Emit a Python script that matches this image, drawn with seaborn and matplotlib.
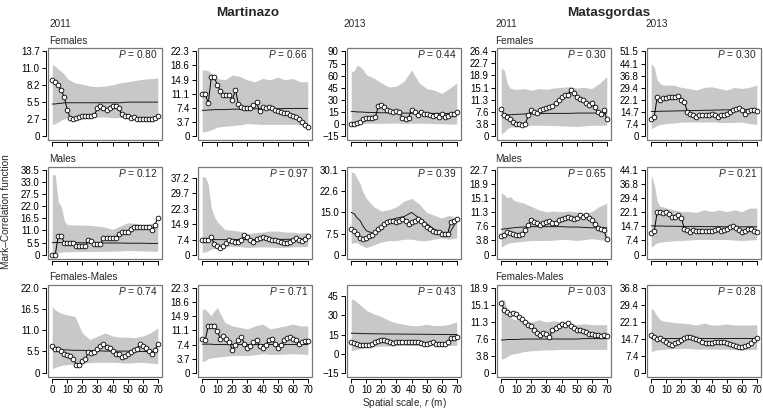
import matplotlib
matplotlib.use("Agg")
import matplotlib.pyplot as plt
from matplotlib.patches import Rectangle
import seaborn as sns

sns.set_style("ticks")
plt.rcParams["font.family"] = ["Liberation Sans", "DejaVu Sans"]
plt.rcParams["mathtext.fontset"] = "custom"
plt.rcParams["mathtext.rm"] = "Liberation Sans"
plt.rcParams["mathtext.it"] = "Liberation Sans:italic"

# distance grids (m)
R_OBS = list(range(0, 71, 2))
R_ENV = [0, 2, 4, 6, 8, 10, 15, 20, 25, 30, 35, 40, 45, 50, 55, 60, 65, 70]

# ---- Martinazo 2011 ----
obs_mar11_f = [9.0, 8.7, 8.2, 7.4, 6.3, 4.2, 2.9, 2.8, 3.0, 3.1, 3.2, 3.2, 3.3, 3.2, 3.5, 4.5, 4.9, 4.6,
               4.3, 4.6, 4.8, 4.9, 4.5, 3.6, 3.3, 3.2, 3.0, 3.1, 2.8, 2.7, 2.7, 2.7, 2.8, 2.8, 2.9, 3.2]
hi_mar11_f = [11.6, 11.3, 10.8, 10.5, 10.0, 9.3, 8.6, 8.4, 8.1, 8.0, 8.1, 8.3, 8.6, 8.8, 9.0, 9.2, 9.3, 9.4]
lo_mar11_f = [1.9, 2.0, 2.3, 2.6, 2.8, 3.0, 3.1, 3.1, 3.1, 3.1, 3.1, 3.0, 3.0, 3.0, 3.0, 3.0, 2.9, 2.9]
mean_mar11_f = [5.2, 5.2, 5.3, 5.3, 5.4, 5.4, 5.4, 5.4, 5.4, 5.4, 5.4, 5.4, 5.4, 5.5, 5.5, 5.5, 5.5, 5.5]

obs_mar11_m = [0, 0, 8.5, 8.5, 5.5, 5.5, 5.5, 5.5, 3.8, 3.8, 3.8, 3.8, 6.6, 6.3, 5.0, 5.0, 5.0, 7.7,
               7.7, 7.7, 7.7, 7.7, 9.5, 10.5, 10.5, 10.5, 11.5, 12.5, 12.5, 12.5, 12.5, 12.5, 12.5, 11.0, 13.5, 16.5]
hi_mar11_m = [36.3, 36.3, 24.0, 22.0, 15.5, 13.6, 13.5, 13.4, 13.3, 13.0, 12.5, 11.5, 13.0, 14.5, 14.2, 13.5, 14.0, 14.5]
lo_mar11_m = [0.8, 0.9, 1.0, 1.2, 1.3, 1.4, 1.4, 1.4, 1.5, 1.5, 1.5, 1.6, 1.7, 1.9, 1.8, 1.7, 1.6, 1.6]
mean_mar11_m = [5.5, 5.5, 5.5, 5.5, 5.5, 5.5, 5.5, 5.4, 5.4, 5.4, 5.3, 5.3, 5.3, 5.2, 5.2, 5.2, 5.1, 5.1]

obs_mar11_fm = [6.9, 6.1, 6.1, 5.7, 4.8, 4.7, 4.4, 3.6, 2.1, 2.1, 3.1, 3.6, 5.3, 5.0, 5.3, 6.1, 6.9, 7.5,
                6.7, 6.4, 5.5, 4.8, 4.8, 4.0, 4.4, 4.8, 5.3, 5.8, 6.1, 7.4, 6.9, 6.4, 5.7, 4.8, 5.8, 7.4]
hi_mar11_fm = [17.2, 16.3, 15.8, 15.4, 15.2, 15.0, 14.6, 10.3, 8.6, 9.5, 10.3, 9.5, 9.2, 9.2, 9.1, 9.5, 10.3, 11.6]
lo_mar11_fm = [1.0, 1.4, 1.6, 1.9, 2.0, 2.1, 2.3, 2.5, 2.6, 2.7, 2.7, 2.7, 2.6, 2.5, 2.6, 2.7, 2.5, 2.3]
mean_mar11_fm = [6.1, 6.0, 6.0, 5.9, 5.9, 5.9, 5.8, 5.8, 5.7, 5.7, 5.6, 5.6, 5.6, 5.6, 5.5, 5.5, 5.5, 5.5]

# ---- Martinazo (middle column) ----
obs_mar12_f = [11.2, 11.2, 8.6, 15.5, 15.5, 13.5, 12.0, 10.9, 10.8, 10.9, 9.5, 12.2, 8.5, 7.8, 7.5, 7.4, 7.3, 8.2,
               9.0, 6.5, 7.8, 7.5, 7.6, 7.5, 6.9, 6.6, 6.3, 6.1, 6.0, 5.6, 5.4, 5.0, 4.4, 3.8, 3.0, 2.5]
hi_mar12_f = [17.4, 17.4, 17.2, 16.5, 15.8, 15.2, 14.8, 16.1, 15.7, 14.8, 14.3, 15.2, 14.8, 15.5, 14.8, 15.2, 14.3, 14.3]
lo_mar12_f = [1.1, 1.2, 1.4, 1.7, 2.0, 2.4, 2.6, 2.8, 3.0, 3.3, 3.2, 3.1, 3.1, 3.1, 3.1, 3.1, 3.0, 2.8]
mean_mar12_f = [6.8, 6.8, 6.9, 6.9, 7.0, 7.0, 7.0, 7.1, 7.1, 7.1, 7.2, 7.2, 7.2, 7.2, 7.3, 7.3, 7.3, 7.3]

obs_mar12_m = [7.4, 7.4, 7.4, 8.6, 5.3, 4.5, 3.6, 4.5, 5.8, 7.4, 6.9, 6.1, 6.4, 7.4, 9.4, 8.6, 7.4, 6.1,
               7.8, 8.4, 8.6, 8.1, 7.8, 7.4, 7.4, 6.9, 6.1, 5.6, 5.8, 6.4, 7.4, 8.1, 7.4, 6.9, 7.8, 9.1]
hi_mar12_m = [37.5, 37.5, 34.0, 22.6, 18.5, 16.0, 12.2, 11.9, 11.4, 10.2, 10.8, 11.0, 11.5, 11.5, 11.0, 11.0, 10.5, 11.0]
lo_mar12_m = [1.2, 1.5, 2.0, 2.8, 3.2, 3.6, 3.9, 4.1, 4.0, 3.6, 3.8, 3.9, 3.8, 3.6, 3.7, 3.9, 4.0, 4.1]
mean_mar12_m = [7.3, 7.3, 7.3, 7.4, 7.4, 7.4, 7.4, 7.4, 7.4, 7.4, 7.4, 7.5, 7.5, 7.5, 7.5, 7.6, 7.6, 7.6]

obs_mar12_fm = [8.9, 8.6, 12.3, 12.3, 12.3, 11.0, 8.9, 9.7, 8.9, 8.1, 5.9, 7.2, 8.5, 9.3, 7.6, 6.5, 6.9, 8.1,
                8.5, 6.9, 6.5, 7.2, 8.5, 8.9, 7.6, 6.5, 7.2, 8.5, 9.1, 9.3, 8.9, 8.6, 7.6, 8.1, 8.3, 8.3]
hi_mar12_fm = [16.7, 16.7, 15.8, 15.0, 16.3, 17.1, 13.2, 12.3, 11.9, 11.5, 12.3, 12.8, 11.5, 11.9, 12.3, 12.8, 12.3, 12.3]
lo_mar12_fm = [2.8, 3.2, 3.7, 3.9, 4.0, 4.1, 4.3, 4.5, 4.5, 4.5, 4.7, 5.0, 4.8, 4.8, 4.9, 5.0, 4.9, 4.8]
mean_mar12_fm = [7.5, 7.5, 7.5, 7.5, 7.4, 7.4, 7.4, 7.4, 7.4, 7.4, 7.4, 7.4, 7.4, 7.4, 7.4, 7.4, 7.4, 7.4]

# ---- Martinazo 2013 ----
obs_mar13_f = [0, 0, 1, 3, 6, 7, 8, 8, 9, 22, 23, 21, 17.5, 16, 15, 16, 15, 7,
               6, 8, 18, 15, 11, 15, 13, 12.5, 11, 10, 11, 9, 12, 9, 10, 12, 13, 15]
hi_mar13_f = [65, 66, 73, 71, 67, 61, 57, 51, 46, 47, 53, 67, 51, 44, 42, 38, 44, 51]
lo_mar13_f = [0, 0, 0, 0.5, 0.5, 1, 1, 1, 1, 1.5, 1, 1, 1, 1, 0.5, 0.5, 0, 0]
mean_mar13_f = [15.5, 15.5, 15, 15, 14.8, 14.5, 14.3, 14, 14, 13.8, 13.6, 13.5, 13.4, 13.3, 13.2, 13.2, 13.1, 13]

obs_mar13_m = [9, 8.5, 7.5, 6, 5.5, 6, 6.5, 7, 8, 9, 10, 11, 11.5, 12, 12, 11.5, 12, 12.5,
               12, 11, 11.5, 12, 12.5, 12, 11, 10, 9, 8.5, 8, 8, 7.5, 7.5, 7.5, 11.5, 12, 12.5]
hi_mar13_m = [29.5, 29, 27, 25, 22, 20, 17, 15.5, 16, 17, 19, 20, 18, 15, 14, 13, 14, 13]
lo_mar13_m = [4.0, 4.2, 4.3, 3.5, 3.0, 2.5, 3.5, 4.5, 5.0, 5.0, 5.5, 5.5, 5.0, 5.0, 5.5, 6.0, 5.5, 6.0]
mean_mar13_m = [15, 14.5, 13, 12, 10, 8.5, 7.5, 10, 12, 13, 13.5, 15, 13, 11, 9, 8, 7.5, 12]

obs_mar13_fm = [9, 8.5, 7.5, 6.5, 6.5, 7, 6.5, 7.5, 9, 10, 10.5, 11, 10, 9, 8.5, 9, 9, 9.5,
                9.5, 9, 9, 9, 9, 8.5, 8, 8, 8.5, 9, 8, 7.5, 7.5, 8, 9, 12, 12.5, 13]
hi_mar13_fm = [43, 42, 40, 38, 36, 34, 31, 29, 26, 24, 23, 22, 22, 23, 22, 22, 23, 25]
lo_mar13_fm = [2.5, 3, 3.5, 4, 4.5, 5, 5.5, 6, 6, 6.5, 6.5, 6.5, 6.5, 6.5, 6.5, 6.5, 6.5, 6.5]
mean_mar13_fm = [16, 16, 15.9, 15.8, 15.7, 15.7, 15.6, 15.5, 15.4, 15.4, 15.3, 15.3, 15.2, 15.2, 15.1, 15.1, 15, 15]

# ---- Matasgordas 2011 ----
obs_mat11_f = [8.6, 6.5, 6.0, 5.4, 4.4, 3.9, 3.7, 3.4, 3.9, 6.5, 8.1, 7.5, 7.3, 8.1, 8.6, 8.9, 9.1, 9.3,
               10.2, 11.2, 12.3, 12.8, 12.8, 14.3, 13.3, 12.3, 11.7, 11.2, 10.2, 9.6, 10.2, 9.1, 7.5, 7.0, 8.1, 5.4]
hi_mat11_f = [21.2, 20.6, 16.4, 14.9, 14.7, 14.6, 14.8, 14.3, 14.8, 14.6, 15.0, 15.2, 15.4, 15.0, 15.2, 14.8, 16.4, 18.5]
lo_mat11_f = [0.7, 1.3, 2.3, 2.8, 2.9, 3.0, 3.2, 3.4, 3.4, 3.4, 3.3, 3.2, 3.1, 3.0, 3.2, 3.4, 3.4, 3.4]
mean_mat11_f = [6.5, 6.6, 6.6, 6.7, 6.7, 6.8, 6.9, 7.0, 7.0, 7.1, 7.1, 7.1, 7.1, 7.2, 7.2, 7.2, 7.2, 7.2]

obs_mat11_m = [5.0, 5.4, 6.1, 5.8, 5.6, 5.4, 5.2, 5.6, 6.5, 7.9, 9.3, 8.8, 8.4, 7.9, 8.4, 8.8, 9.0, 8.4,
               8.6, 9.3, 9.5, 9.9, 10.2, 9.9, 9.5, 9.9, 10.5, 10.2, 10.5, 9.9, 9.3, 8.1, 7.2, 6.8, 6.5, 4.3]
hi_mat11_m = [16.5, 16.1, 15.2, 15.6, 14.7, 14.3, 13.8, 12.9, 12.0, 11.5, 11.7, 11.5, 11.7, 11.5, 11.1, 11.5, 12.9, 13.8]
lo_mat11_m = [2.0, 2.5, 2.9, 3.2, 3.3, 3.4, 3.6, 3.8, 3.8, 3.8, 3.9, 4.1, 4.0, 3.8, 4.0, 4.3, 4.0, 3.8]
mean_mat11_m = [6.8, 6.9, 7.0, 7.1, 7.2, 7.3, 7.4, 7.5, 7.5, 7.5, 7.5, 7.5, 7.4, 7.4, 7.3, 7.2, 7.2, 7.2]

obs_mat11_fm = [15.5, 14.0, 13.6, 13.1, 13.4, 13.1, 12.5, 11.9, 11.4, 10.6, 10.3, 9.6, 8.8, 8.4, 8.8, 8.7, 7.9, 9.6,
                9.9, 10.3, 10.8, 10.6, 11.0, 10.3, 9.9, 9.6, 9.6, 9.2, 9.0, 8.7, 8.7, 8.4, 8.4, 8.1, 8.4, 8.2]
hi_mat11_fm = [16.3, 16.3, 14.0, 12.5, 11.9, 11.8, 11.8, 11.3, 11.8, 11.3, 11.6, 11.3, 11.0, 10.7, 10.9, 10.7, 10.7, 10.7]
lo_mat11_fm = [3.0, 3.2, 3.6, 4.0, 4.2, 4.3, 4.7, 4.9, 5.0, 5.1, 5.1, 5.2, 5.2, 5.2, 5.2, 5.2, 5.2, 5.2]
mean_mat11_fm = [7.3, 7.3, 7.4, 7.4, 7.4, 7.4, 7.5, 7.5, 7.5, 7.5, 7.5, 7.5, 7.5, 7.5, 7.6, 7.6, 7.6, 7.6]

# ---- Matasgordas 2013 ----
obs_mat13_f = [10.6, 11.7, 24.0, 21.9, 23.0, 23.0, 23.5, 24.0, 24.0, 24.3, 22.0, 20.9, 14.7, 13.7, 12.7, 11.7, 12.7, 12.7,
               12.7, 12.7, 13.3, 12.7, 11.7, 12.7, 12.7, 13.7, 14.7, 15.7, 16.8, 17.4, 15.7, 13.7, 15.3, 16.2, 15.7, 15.3]
hi_mat13_f = [44, 42, 34, 32, 31, 31, 31, 29.6, 29, 28, 29.6, 30, 29, 28, 29.6, 29, 29.6, 31]
lo_mat13_f = [4.5, 5.5, 6.5, 7.2, 7.4, 7.6, 8.0, 8.6, 8.6, 8.6, 8.6, 8.6, 8.4, 8.2, 8.4, 8.6, 7.6, 7.2]
mean_mat13_f = [15.0, 15.0, 15.1, 15.1, 15.2, 15.2, 15.3, 15.4, 15.5, 15.6, 15.7, 15.8, 15.9, 16.0, 16.0, 16.1, 16.1, 16.2]

obs_mat13_m = [11.5, 12.2, 22.4, 22.0, 21.5, 22.4, 21.0, 19.8, 19.8, 20.6, 18.9, 13.6, 12.7, 11.8, 12.7, 12.5, 12.3, 12.5,
               12.5, 12.3, 12.5, 12.7, 13.2, 12.5, 12.7, 13.6, 14.5, 15.0, 13.9, 12.7, 11.8, 12.3, 13.2, 13.6, 12.3, 11.8]
hi_mat13_m = [41.8, 36.5, 27.7, 25.0, 25.0, 24.2, 23.3, 22.4, 22.4, 22.0, 23.3, 22.4, 23.3, 22.4, 23.3, 22.4, 24.2, 24.2]
lo_mat13_m = [3.9, 5.1, 6.2, 6.5, 6.7, 6.9, 7.2, 7.4, 7.6, 7.9, 7.9, 7.9, 7.9, 7.9, 7.6, 7.4, 7.6, 7.9]
mean_mat13_m = [15.0, 15.0, 14.9, 14.9, 14.9, 14.8, 14.8, 14.7, 14.7, 14.7, 14.6, 14.6, 14.6, 14.5, 14.5, 14.5, 14.5, 14.5]

obs_mat13_fm = [16.4, 15.3, 14.6, 15.0, 14.3, 13.5, 12.5, 12.1, 12.8, 13.5, 14.3, 15.0, 15.3, 15.4, 15.0, 14.6, 14.0, 13.5,
                13.1, 13.1, 13.1, 13.2, 13.5, 13.5, 13.2, 12.8, 12.6, 12.1, 11.6, 11.1, 11.1, 11.4, 12.1, 12.8, 14.3, 15.0]
hi_mat13_fm = [28.1, 26.6, 24.5, 23.0, 22.3, 22.3, 21.8, 21.5, 21.2, 20.7, 21.5, 20.7, 20.7, 21.2, 20.7, 20.7, 20.7, 20.8]
lo_mat13_fm = [9.2, 9.5, 9.9, 10.0, 10.1, 10.2, 10.4, 10.6, 10.5, 10.2, 10.2, 10.2, 10.2, 10.2, 10.0, 9.9, 10.0, 10.2]
mean_mat13_fm = [15.2, 15.2, 15.2, 15.2, 15.2, 15.2, 15.2, 15.2, 15.2, 15.2, 15.2, 15.2, 15.2, 15.2, 15.2, 15.2, 15.2, 15.2]

# y tick labels per panel (rows: Females, Males, Females-Males)
yt_mar11 = [["0", "2.7", "5.5", "8.2", "11.0", "13.7"],
            ["0", "5.5", "11.0", "16.5", "22.0", "27.5", "33.0", "38.5"],
            ["0", "5.5", "11.0", "16.5", "22.0"]]
yt_mar12 = [["0", "3.7", "7.4", "11.1", "14.9", "18.6", "22.3"],
            ["0", "7.4", "14.9", "22.3", "29.7", "37.2"],
            ["0", "3.7", "7.4", "11.1", "14.9", "18.6", "22.3"]]
yt_mar13 = [["\u221215", "0", "15", "30", "45", "60", "75", "90"],
            ["0", "7.5", "15.0", "22.6", "30.1"],
            ["\u221215", "0", "15", "30", "45"]]
yt_mat11 = [["0", "3.8", "7.6", "11.3", "15.1", "18.9", "22.7", "26.4"],
            ["0", "3.8", "7.6", "11.3", "15.1", "18.9", "22.7"],
            ["0", "3.8", "7.6", "11.3", "15.1", "18.9"]]
yt_mat13 = [["0", "7.4", "14.7", "22.1", "29.4", "36.8", "44.1", "51.5"],
            ["0", "7.4", "14.7", "22.1", "29.4", "36.8", "44.1"],
            ["0", "7.4", "14.7", "22.1", "29.4", "36.8"]]

# P values
p_mar11 = [0.80, 0.12, 0.74]
p_mar12 = [0.66, 0.97, 0.71]
p_mar13 = [0.44, 0.39, 0.43]
p_mat11 = [0.30, 0.65, 0.03]
p_mat13 = [0.30, 0.21, 0.28]

X_TICKS = [0, 10, 20, 30, 40, 50, 60, 70]

# ---- layout (pixels) ----
W, H = 763, 411
COL_LEFT = [48, 198, 347, 497, 647]
ROW_TOP = [48, 166.5, 284.5]
BOX_W, BOX_H = 114, 92
BAND = "#c9c7c7"
FS = 7

columns = [
    ([obs_mar11_f, obs_mar11_m, obs_mar11_fm], [hi_mar11_f, hi_mar11_m, hi_mar11_fm],
     [lo_mar11_f, lo_mar11_m, lo_mar11_fm], [mean_mar11_f, mean_mar11_m, mean_mar11_fm], yt_mar11, p_mar11),
    ([obs_mar12_f, obs_mar12_m, obs_mar12_fm], [hi_mar12_f, hi_mar12_m, hi_mar12_fm],
     [lo_mar12_f, lo_mar12_m, lo_mar12_fm], [mean_mar12_f, mean_mar12_m, mean_mar12_fm], yt_mar12, p_mar12),
    ([obs_mar13_f, obs_mar13_m, obs_mar13_fm], [hi_mar13_f, hi_mar13_m, hi_mar13_fm],
     [lo_mar13_f, lo_mar13_m, lo_mar13_fm], [mean_mar13_f, mean_mar13_m, mean_mar13_fm], yt_mar13, p_mar13),
    ([obs_mat11_f, obs_mat11_m, obs_mat11_fm], [hi_mat11_f, hi_mat11_m, hi_mat11_fm],
     [lo_mat11_f, lo_mat11_m, lo_mat11_fm], [mean_mat11_f, mean_mat11_m, mean_mat11_fm], yt_mat11, p_mat11),
    ([obs_mat13_f, obs_mat13_m, obs_mat13_fm], [hi_mat13_f, hi_mat13_m, hi_mat13_fm],
     [lo_mat13_f, lo_mat13_m, lo_mat13_fm], [mean_mat13_f, mean_mat13_m, mean_mat13_fm], yt_mat13, p_mat13),
]

# a couple of panels have extra head-room above the top tick
ytop_override = {(1, 1): 42.5, (2, 2): 54.0}


def px_axes(fig, left, top):
    return fig.add_axes([left / W, 1 - (top + BOX_H) / H, BOX_W / W, BOX_H / H])


def draw_panel(ax, obs, hi, lo, mean, ylabels, p, bottom_row, ytop=None):
    yvals = [float(t.replace("\u2212", "-")) for t in ylabels]
    ax.fill_between(R_ENV, lo, hi, color=BAND, linewidth=0, zorder=1)
    sns.lineplot(x=R_ENV, y=mean, color="#1a1a1a", linewidth=0.7, ax=ax, zorder=2)
    sns.lineplot(x=R_OBS, y=obs, color="black", linewidth=0.7, marker="o", markersize=3.4,
                 markerfacecolor="white", markeredgecolor="black", markeredgewidth=0.6, ax=ax, zorder=3)

    span = yvals[-1] - yvals[0]
    top = ytop if ytop is not None else yvals[-1] + 0.04 * span
    ax.set_ylim(yvals[0] - 0.045 * span, top)
    ax.set_xlim(-2.8, 72.8)

    ax.set_yticks(yvals)
    ax.set_yticklabels(ylabels)
    ax.set_xticks(X_TICKS)
    ax.set_xticklabels([str(v) for v in X_TICKS] if bottom_row else [])
    ax.set_xlabel("")
    ax.set_ylabel("")
    ax.tick_params(direction="out", length=3, width=0.7, pad=1.5, labelsize=FS, colors="black")

    for s in ["top", "right"]:
        ax.spines[s].set_visible(False)
    for s in ["left", "bottom"]:
        ax.spines[s].set_position(("outward", 1.5))
        ax.spines[s].set_linewidth(0.7)
        ax.spines[s].set_color("black")
    ax.spines["left"].set_bounds(yvals[0], yvals[-1])
    ax.spines["bottom"].set_bounds(0, 70)

    ax.add_patch(Rectangle((0, 0), 1, 1, transform=ax.transAxes, fill=False,
                           edgecolor="#777777", linewidth=0.9, zorder=4, clip_on=False))
    ax.text(0.965, 0.93, f"$P$ = {p:.2f}", transform=ax.transAxes, ha="right", va="center",
            fontsize=FS + 0.3)


fig = plt.figure(figsize=(W / 100, H / 100), dpi=100)

for c, (obs_l, hi_l, lo_l, mean_l, yt_l, p_l) in enumerate(columns):
    for r in range(3):
        ax = px_axes(fig, COL_LEFT[c], ROW_TOP[r])
        draw_panel(ax, obs_l[r], hi_l[r], lo_l[r], mean_l[r], yt_l[r], p_l[r],
                   bottom_row=(r == 2), ytop=ytop_override.get((r, c)))


def fig_text(x, y, s, **kw):
    fig.text(x / W, 1 - y / H, s, **kw)


fig_text(248, 13, "Martinazo", ha="center", va="center", fontsize=9.7, fontweight="bold")
fig_text(609, 13, "Matasgordas", ha="center", va="center", fontsize=9.7, fontweight="bold")
for x, yr in [(49, "2011"), (343, "2013"), (495, "2011"), (645, "2013")]:
    fig_text(x, 24, yr, ha="left", va="center", fontsize=FS + 0.2)
for x in [49, 495]:
    fig_text(x, 41, "Females", ha="left", va="center", fontsize=FS + 0.2)
    fig_text(x, 159, "Males", ha="left", va="center", fontsize=FS + 0.2)
    fig_text(x, 277, "Females-Males", ha="left", va="center", fontsize=FS + 0.2)

fig_text(6, 212, "Mark\u2013Correlation function", ha="center", va="center", rotation=90, fontsize=FS + 0.2)
fig_text(404, 403, "Spatial scale, $r$ (m)", ha="center", va="center", fontsize=FS + 0.2)

fig.savefig("out.png", dpi=100)
plt.close(fig)
